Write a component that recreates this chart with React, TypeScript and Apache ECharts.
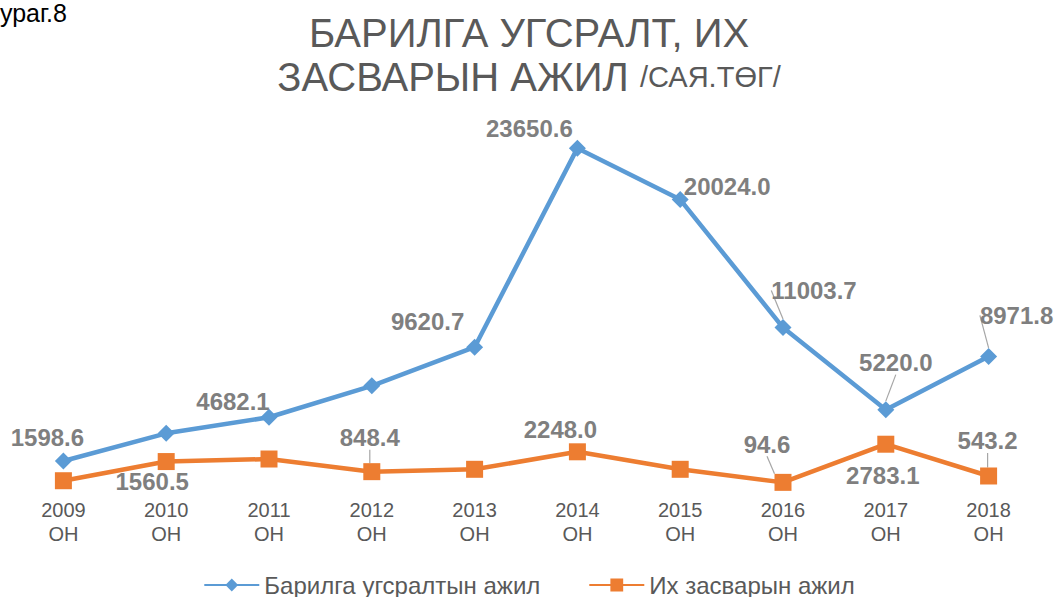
import React, { useEffect, useRef } from "react";
import * as echarts from "echarts";

// ---- data ----
const years = ["2009", "2010", "2011", "2012", "2013", "2014", "2015", "2016", "2017", "2018"];
const yearSuffix = "ОН";
const constructionName = "Барилга угсралтын ажил";
const repairName = "Их засварын ажил";
const constructionValues = [1598.6, 3550, 4682.1, 6900, 9620.7, 23650.6, 20024.0, 11003.7, 5220.0, 8971.8];
const repairValues = [210, 1560.5, 1740, 848.4, 1015, 2248.0, 1015, 94.6, 2783.1, 543.2];
const constructionLabelled = [true, false, true, false, true, true, true, true, true, true];
const repairLabelled = [false, true, false, true, false, true, false, true, true, true];
const titleLine1 = "БАРИЛГА УГСРАЛТ, ИХ";
const titleLine2 = "ЗАСВАРЫН АЖИЛ ";
const titleUnit = "/САЯ.ТӨГ/";
const figureCaption = "ураг.8";

// ---- layout (label centre relative to the point) ----
const constructionShift: number[][] = [[-16, -24], [0, 0], [-36, -16], [0, 0], [-47, -26], [-48, -20], [47, -13], [31, -37], [10, -47], [28, -41]];
const constructionLeader = [false, false, false, false, false, false, false, true, true, true];
const repairShift: number[][] = [[0, 0], [-14, 20], [0, 0], [-2, -34], [0, 0], [-17, -22], [0, 0], [-16, -38], [-3, 31], [-1, -35]];
const repairLeader = [false, false, false, true, false, false, false, true, false, true];

const FONT = '"Liberation Sans", Arial, sans-serif';
const BLUE = "#5B9BD5";
const ORANGE = "#ED7D31";

function buildSeries(name: string, values: number[], labelled: boolean[], leader: boolean[], shift: number[][], color: string, symbol: string, symbolSize: number) {
  return {
    type: "line",
    name,
    data: values.map((v, i) => ({
      value: v,
      label: { show: labelled[i] },
      labelLine: { show: leader[i] },
    })),
    symbol,
    symbolSize,
    lineStyle: { width: 4.5, color },
    itemStyle: { color },
    label: {
      show: true,
      position: "inside",
      formatter: (p: any) => Number(p.value).toFixed(1),
      fontFamily: FONT,
      fontSize: 24,
      fontWeight: "bold",
      color: "#7F7F7F",
    },
    labelLine: { show: false, lineStyle: { color: "#A6A6A6", width: 1.2 } },
    labelLayout: (p: any) => {
      const s = shift[p.dataIndex] || [0, 0];
      return {
        x: p.rect.x + p.rect.width / 2 + s[0],
        y: p.rect.y + p.rect.height / 2 + s[1],
        align: "center",
        verticalAlign: "middle",
      };
    },
  };
}

export default function App() {
  const ref = useRef<HTMLDivElement>(null);
  useEffect(() => {
    if (!ref.current) return;
    const chart = echarts.init(ref.current, undefined, { renderer: "svg" });
    chart.setOption({
      animation: false,
      backgroundColor: "#ffffff",
      title: {
        text: `{a|${titleLine1}}\n{a|${titleLine2}}{b|${titleUnit}}`,
        left: "center",
        top: 11,
        padding: 0,
        textStyle: {
          fontWeight: "normal",
          rich: {
            a: { fontFamily: FONT, fontSize: 40, fontWeight: "normal", color: "#595959", lineHeight: 44 },
            b: { fontFamily: FONT, fontSize: 29, fontWeight: "normal", color: "#595959", lineHeight: 44 },
          },
        },
      },
      graphic: [
        {
          type: "text",
          left: 0,
          top: 0,
          style: { text: figureCaption, font: `25px ${FONT}`, fill: "#000000" },
        },
      ],
      legend: {
        data: [constructionName, repairName],
        left: "center",
        top: 568,
        itemWidth: 55,
        itemHeight: 16,
        itemGap: 48,
        textStyle: { fontFamily: FONT, fontSize: 24, color: "#595959" },
      },
      grid: { left: 12, right: 18, top: 129, bottom: 113.3, containLabel: false },
      xAxis: {
        type: "category",
        data: years,
        boundaryGap: true,
        axisLine: { show: false },
        axisTick: { show: false },
        axisLabel: {
          interval: 0,
          formatter: (v: string) => `${v}\n${yearSuffix}`,
          fontFamily: FONT,
          fontSize: 20,
          color: "#595959",
          lineHeight: 24,
          margin: 14,
        },
      },
      yAxis: { type: "value", min: 0, max: 25000, show: false },
      series: [
        buildSeries(constructionName, constructionValues, constructionLabelled, constructionLeader, constructionShift, BLUE, "diamond", 17),
        buildSeries(repairName, repairValues, repairLabelled, repairLeader, repairShift, ORANGE, "rect", 17),
      ],
    });
    return () => chart.dispose();
  }, []);
  return <div ref={ref} style={{ position: "fixed", left: 0, top: 0, width: 1058, height: 597 }} />;
}
